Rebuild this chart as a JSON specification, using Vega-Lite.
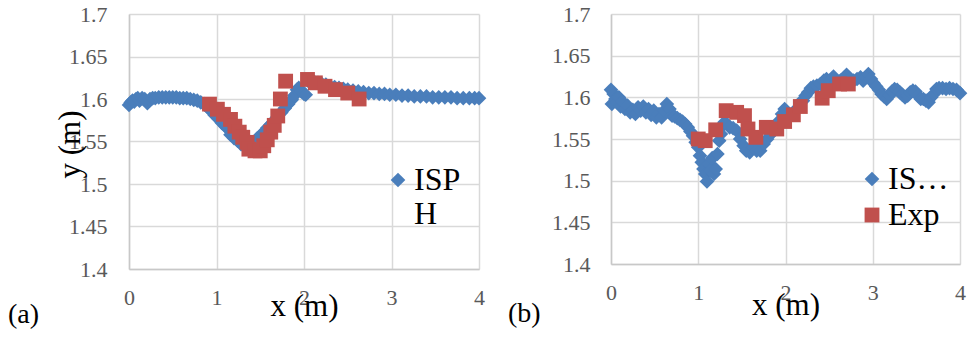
{
  "$schema": "https://vega.github.io/schema/vega-lite/v6.json",
  "autosize": {"type": "pad"},
  "padding": {"left": 8, "top": 3, "right": 0, "bottom": 0},
  "background": "white",
  "config": {
    "font": "Liberation Serif",
    "view": {"stroke": null},
    "axis": {
      "grid": true, "gridColor": "#d9d9d9", "gridWidth": 1.5,
      "domainColor": "#c8c8c8", "domainWidth": 1.5, "ticks": false,
      "labelFont": "Liberation Serif", "labelFontSize": 22, "labelColor": "#595959",
      "titleFont": "Liberation Serif", "titleFontSize": 31, "titleColor": "#000000", "titleFontWeight": "normal",
      "labelFlush": false
    },
    "legend": {
      "labelFont": "Liberation Serif", "labelFontSize": 32, "labelColor": "#000000",
      "symbolSize": 240, "symbolStrokeWidth": 0, "padding": 0, "rowPadding": 4, "labelOffset": 0, "labelLimit": 300
    },
    "title": {"font": "Liberation Serif", "fontSize": 28, "color": "#000000", "fontWeight": "normal"}
  },
  "datasets": {
    "a": [
      {"series":"ISPH","x":0,"y":1.593},{"series":"ISPH","x":0.02,"y":1.596},{"series":"ISPH","x":0.04,"y":1.598},{"series":"ISPH","x":0.06,"y":1.597},
      {"series":"ISPH","x":0.08,"y":1.6},{"series":"ISPH","x":0.1,"y":1.601},{"series":"ISPH","x":0.12,"y":1.598},{"series":"ISPH","x":0.15,"y":1.601},
      {"series":"ISPH","x":0.18,"y":1.6},{"series":"ISPH","x":0.21,"y":1.595},{"series":"ISPH","x":0.24,"y":1.6},{"series":"ISPH","x":0.27,"y":1.601},
      {"series":"ISPH","x":0.3,"y":1.601},{"series":"ISPH","x":0.34,"y":1.602},{"series":"ISPH","x":0.38,"y":1.602},{"series":"ISPH","x":0.42,"y":1.602},
      {"series":"ISPH","x":0.46,"y":1.602},{"series":"ISPH","x":0.5,"y":1.602},{"series":"ISPH","x":0.54,"y":1.602},{"series":"ISPH","x":0.58,"y":1.601},
      {"series":"ISPH","x":0.62,"y":1.601},{"series":"ISPH","x":0.66,"y":1.601},{"series":"ISPH","x":0.7,"y":1.6},{"series":"ISPH","x":0.74,"y":1.599},
      {"series":"ISPH","x":0.78,"y":1.598},{"series":"ISPH","x":0.82,"y":1.596},{"series":"ISPH","x":0.86,"y":1.594},{"series":"ISPH","x":0.9,"y":1.59},
      {"series":"ISPH","x":0.94,"y":1.586},{"series":"ISPH","x":0.98,"y":1.581},{"series":"ISPH","x":1.02,"y":1.577},{"series":"ISPH","x":1.06,"y":1.572},
      {"series":"ISPH","x":1.1,"y":1.568},{"series":"ISPH","x":1.13,"y":1.565},{"series":"ISPH","x":1.16,"y":1.558},{"series":"ISPH","x":1.2,"y":1.554},
      {"series":"ISPH","x":1.24,"y":1.551},{"series":"ISPH","x":1.28,"y":1.547},{"series":"ISPH","x":1.32,"y":1.544},{"series":"ISPH","x":1.36,"y":1.542},
      {"series":"ISPH","x":1.4,"y":1.541},{"series":"ISPH","x":1.43,"y":1.546},{"series":"ISPH","x":1.46,"y":1.553},{"series":"ISPH","x":1.5,"y":1.557},
      {"series":"ISPH","x":1.54,"y":1.561},{"series":"ISPH","x":1.58,"y":1.566},{"series":"ISPH","x":1.62,"y":1.57},{"series":"ISPH","x":1.66,"y":1.575},
      {"series":"ISPH","x":1.7,"y":1.579},{"series":"ISPH","x":1.74,"y":1.584},{"series":"ISPH","x":1.78,"y":1.589},{"series":"ISPH","x":1.82,"y":1.594},
      {"series":"ISPH","x":1.86,"y":1.599},{"series":"ISPH","x":1.89,"y":1.604},{"series":"ISPH","x":1.92,"y":1.611},{"series":"ISPH","x":1.94,"y":1.613},
      {"series":"ISPH","x":1.97,"y":1.609},{"series":"ISPH","x":2.0,"y":1.606},{"series":"ISPH","x":2.02,"y":1.605},{"series":"ISPH","x":2.05,"y":1.621},
      {"series":"ISPH","x":2.08,"y":1.621},{"series":"ISPH","x":2.12,"y":1.62},{"series":"ISPH","x":2.16,"y":1.619},{"series":"ISPH","x":2.2,"y":1.618},
      {"series":"ISPH","x":2.25,"y":1.617},{"series":"ISPH","x":2.3,"y":1.615},{"series":"ISPH","x":2.35,"y":1.614},{"series":"ISPH","x":2.4,"y":1.613},
      {"series":"ISPH","x":2.45,"y":1.612},{"series":"ISPH","x":2.5,"y":1.611},{"series":"ISPH","x":2.56,"y":1.61},{"series":"ISPH","x":2.62,"y":1.609},
      {"series":"ISPH","x":2.68,"y":1.608},{"series":"ISPH","x":2.74,"y":1.607},{"series":"ISPH","x":2.8,"y":1.607},{"series":"ISPH","x":2.86,"y":1.606},
      {"series":"ISPH","x":2.92,"y":1.606},{"series":"ISPH","x":2.98,"y":1.605},{"series":"ISPH","x":3.05,"y":1.605},{"series":"ISPH","x":3.12,"y":1.604},
      {"series":"ISPH","x":3.19,"y":1.604},{"series":"ISPH","x":3.26,"y":1.603},{"series":"ISPH","x":3.33,"y":1.603},{"series":"ISPH","x":3.4,"y":1.603},
      {"series":"ISPH","x":3.47,"y":1.602},{"series":"ISPH","x":3.54,"y":1.602},{"series":"ISPH","x":3.61,"y":1.602},{"series":"ISPH","x":3.68,"y":1.602},
      {"series":"ISPH","x":3.75,"y":1.601},{"series":"ISPH","x":3.82,"y":1.601},{"series":"ISPH","x":3.89,"y":1.601},{"series":"ISPH","x":3.95,"y":1.601},
      {"series":"ISPH","x":4.0,"y":1.601},
      {"series":"Exp","x":0.92,"y":1.594},{"series":"Exp","x":1.01,"y":1.588},{"series":"Exp","x":1.08,"y":1.582},{"series":"Exp","x":1.16,"y":1.576},
      {"series":"Exp","x":1.21,"y":1.568},{"series":"Exp","x":1.26,"y":1.561},{"series":"Exp","x":1.3,"y":1.555},{"series":"Exp","x":1.35,"y":1.549},
      {"series":"Exp","x":1.37,"y":1.541},{"series":"Exp","x":1.44,"y":1.539},{"series":"Exp","x":1.5,"y":1.539},{"series":"Exp","x":1.54,"y":1.545},
      {"series":"Exp","x":1.58,"y":1.552},{"series":"Exp","x":1.62,"y":1.561},{"series":"Exp","x":1.66,"y":1.569},{"series":"Exp","x":1.7,"y":1.58},
      {"series":"Exp","x":1.73,"y":1.6},{"series":"Exp","x":1.79,"y":1.621},{"series":"Exp","x":2.04,"y":1.623},{"series":"Exp","x":2.13,"y":1.619},
      {"series":"Exp","x":2.24,"y":1.615},{"series":"Exp","x":2.36,"y":1.611},{"series":"Exp","x":2.5,"y":1.607},{"series":"Exp","x":2.63,"y":1.6}
    ],
    "b": [
      {"series":"ISPH","x":0,"y":1.609},{"series":"ISPH","x":0.01,"y":1.592},{"series":"ISPH","x":0.03,"y":1.604},{"series":"ISPH","x":0.05,"y":1.598},
      {"series":"ISPH","x":0.07,"y":1.594},{"series":"ISPH","x":0.09,"y":1.6},{"series":"ISPH","x":0.11,"y":1.589},{"series":"ISPH","x":0.13,"y":1.595},
      {"series":"ISPH","x":0.16,"y":1.586},{"series":"ISPH","x":0.19,"y":1.59},{"series":"ISPH","x":0.22,"y":1.582},{"series":"ISPH","x":0.25,"y":1.585},
      {"series":"ISPH","x":0.28,"y":1.58},{"series":"ISPH","x":0.31,"y":1.588},{"series":"ISPH","x":0.34,"y":1.584},{"series":"ISPH","x":0.37,"y":1.589},
      {"series":"ISPH","x":0.4,"y":1.582},{"series":"ISPH","x":0.43,"y":1.586},{"series":"ISPH","x":0.46,"y":1.579},{"series":"ISPH","x":0.49,"y":1.584},
      {"series":"ISPH","x":0.52,"y":1.576},{"series":"ISPH","x":0.55,"y":1.58},{"series":"ISPH","x":0.58,"y":1.576},{"series":"ISPH","x":0.61,"y":1.584},
      {"series":"ISPH","x":0.64,"y":1.592},{"series":"ISPH","x":0.67,"y":1.586},{"series":"ISPH","x":0.7,"y":1.578},{"series":"ISPH","x":0.73,"y":1.577},
      {"series":"ISPH","x":0.76,"y":1.575},{"series":"ISPH","x":0.79,"y":1.573},{"series":"ISPH","x":0.82,"y":1.571},{"series":"ISPH","x":0.85,"y":1.568},
      {"series":"ISPH","x":0.88,"y":1.564},{"series":"ISPH","x":0.91,"y":1.559},{"series":"ISPH","x":0.94,"y":1.554},{"series":"ISPH","x":0.97,"y":1.546},
      {"series":"ISPH","x":1.0,"y":1.54},{"series":"ISPH","x":1.02,"y":1.53},{"series":"ISPH","x":1.04,"y":1.522},{"series":"ISPH","x":1.06,"y":1.514},
      {"series":"ISPH","x":1.08,"y":1.508},{"series":"ISPH","x":1.1,"y":1.499},{"series":"ISPH","x":1.12,"y":1.52},{"series":"ISPH","x":1.14,"y":1.512},
      {"series":"ISPH","x":1.16,"y":1.527},{"series":"ISPH","x":1.18,"y":1.508},{"series":"ISPH","x":1.2,"y":1.514},{"series":"ISPH","x":1.22,"y":1.532},
      {"series":"ISPH","x":1.24,"y":1.548},{"series":"ISPH","x":1.26,"y":1.556},{"series":"ISPH","x":1.28,"y":1.566},{"series":"ISPH","x":1.3,"y":1.57},
      {"series":"ISPH","x":1.33,"y":1.568},{"series":"ISPH","x":1.36,"y":1.564},{"series":"ISPH","x":1.4,"y":1.563},{"series":"ISPH","x":1.44,"y":1.56},
      {"series":"ISPH","x":1.48,"y":1.55},{"series":"ISPH","x":1.52,"y":1.542},{"series":"ISPH","x":1.55,"y":1.536},{"series":"ISPH","x":1.59,"y":1.534},
      {"series":"ISPH","x":1.63,"y":1.54},{"series":"ISPH","x":1.67,"y":1.536},{"series":"ISPH","x":1.71,"y":1.536},{"series":"ISPH","x":1.75,"y":1.544},
      {"series":"ISPH","x":1.79,"y":1.55},{"series":"ISPH","x":1.83,"y":1.556},{"series":"ISPH","x":1.87,"y":1.56},{"series":"ISPH","x":1.9,"y":1.568},
      {"series":"ISPH","x":1.93,"y":1.572},{"series":"ISPH","x":1.96,"y":1.58},{"series":"ISPH","x":1.99,"y":1.586},{"series":"ISPH","x":2.02,"y":1.578},
      {"series":"ISPH","x":2.05,"y":1.578},{"series":"ISPH","x":2.09,"y":1.582},{"series":"ISPH","x":2.13,"y":1.586},{"series":"ISPH","x":2.17,"y":1.594},
      {"series":"ISPH","x":2.2,"y":1.596},{"series":"ISPH","x":2.23,"y":1.602},{"series":"ISPH","x":2.26,"y":1.606},{"series":"ISPH","x":2.29,"y":1.611},
      {"series":"ISPH","x":2.32,"y":1.613},{"series":"ISPH","x":2.36,"y":1.614},{"series":"ISPH","x":2.4,"y":1.616},{"series":"ISPH","x":2.44,"y":1.62},
      {"series":"ISPH","x":2.47,"y":1.622},{"series":"ISPH","x":2.51,"y":1.62},{"series":"ISPH","x":2.55,"y":1.625},{"series":"ISPH","x":2.59,"y":1.618},
      {"series":"ISPH","x":2.63,"y":1.62},{"series":"ISPH","x":2.67,"y":1.622},{"series":"ISPH","x":2.7,"y":1.627},{"series":"ISPH","x":2.74,"y":1.622},
      {"series":"ISPH","x":2.78,"y":1.62},{"series":"ISPH","x":2.82,"y":1.622},{"series":"ISPH","x":2.86,"y":1.624},{"series":"ISPH","x":2.89,"y":1.62},
      {"series":"ISPH","x":2.92,"y":1.624},{"series":"ISPH","x":2.95,"y":1.628},{"series":"ISPH","x":2.98,"y":1.622},{"series":"ISPH","x":3.01,"y":1.617},
      {"series":"ISPH","x":3.04,"y":1.613},{"series":"ISPH","x":3.07,"y":1.609},{"series":"ISPH","x":3.1,"y":1.604},{"series":"ISPH","x":3.13,"y":1.601},
      {"series":"ISPH","x":3.16,"y":1.598},{"series":"ISPH","x":3.19,"y":1.602},{"series":"ISPH","x":3.22,"y":1.607},{"series":"ISPH","x":3.25,"y":1.61},
      {"series":"ISPH","x":3.28,"y":1.609},{"series":"ISPH","x":3.31,"y":1.606},{"series":"ISPH","x":3.34,"y":1.603},{"series":"ISPH","x":3.37,"y":1.6},
      {"series":"ISPH","x":3.4,"y":1.602},{"series":"ISPH","x":3.43,"y":1.606},{"series":"ISPH","x":3.46,"y":1.608},{"series":"ISPH","x":3.49,"y":1.607},
      {"series":"ISPH","x":3.52,"y":1.602},{"series":"ISPH","x":3.55,"y":1.598},{"series":"ISPH","x":3.58,"y":1.598},{"series":"ISPH","x":3.61,"y":1.596},
      {"series":"ISPH","x":3.64,"y":1.594},{"series":"ISPH","x":3.67,"y":1.6},{"series":"ISPH","x":3.7,"y":1.604},{"series":"ISPH","x":3.73,"y":1.61},
      {"series":"ISPH","x":3.76,"y":1.611},{"series":"ISPH","x":3.8,"y":1.611},{"series":"ISPH","x":3.84,"y":1.61},{"series":"ISPH","x":3.88,"y":1.611},
      {"series":"ISPH","x":3.92,"y":1.61},{"series":"ISPH","x":3.96,"y":1.609},{"series":"ISPH","x":4.0,"y":1.605},
      {"series":"Exp","x":1.0,"y":1.55},{"series":"Exp","x":1.08,"y":1.548},{"series":"Exp","x":1.2,"y":1.561},{"series":"Exp","x":1.32,"y":1.584},
      {"series":"Exp","x":1.44,"y":1.582},{"series":"Exp","x":1.53,"y":1.578},{"series":"Exp","x":1.57,"y":1.562},{"series":"Exp","x":1.66,"y":1.552},
      {"series":"Exp","x":1.78,"y":1.564},{"series":"Exp","x":1.9,"y":1.562},{"series":"Exp","x":1.99,"y":1.571},{"series":"Exp","x":2.09,"y":1.579},
      {"series":"Exp","x":2.17,"y":1.589},{"series":"Exp","x":2.42,"y":1.599},{"series":"Exp","x":2.49,"y":1.608},{"series":"Exp","x":2.62,"y":1.616},
      {"series":"Exp","x":2.72,"y":1.616}
    ]
  },
  "bounds": "flush",
  "spacing": 132,
  "resolve": {
    "scale": {"color": "independent", "shape": "independent", "size": "independent"},
    "legend": {"color": "independent", "shape": "independent", "size": "independent"}
  },
  "hconcat": [
    {
      "width": 350, "height": 255,
      "data": {"name": "a"},
      "title": {"text": "(a)", "orient": "bottom", "anchor": "start", "frame": "group", "dx": -121, "offset": 2, "baseline": "alphabetic"},
      "mark": {"type": "point", "filled": true, "opacity": 1, "strokeWidth": 0},
      "encoding": {
        "x": {"field": "x", "type": "quantitative", "scale": {"domain": [0, 4], "nice": false},
          "axis": {"values": [0, 1, 2, 3, 4], "format": "d", "title": "x (m)", "labelFont": "Liberation Serif", "labelPadding": 18, "titleY": 46, "titleBaseline": "alphabetic"}},
        "y": {"field": "y", "type": "quantitative", "scale": {"domain": [1.4, 1.7], "nice": false, "zero": false},
          "axis": {"values": [1.4, 1.45, 1.5, 1.55, 1.6, 1.65, 1.7], "format": ".2~f", "title": "y (m)", "labelFont": "Liberation Serif", "labelPadding": 22, "titleX": -50, "titleY": 130, "titleAngle": -90, "titleBaseline": "alphabetic", "titleAlign": "center"}},
        "color": {"field": "series", "type": "nominal", "scale": {"domain": ["ISPH", "Exp"], "range": ["#4a7ebb", "#c0504d"]},
          "legend": {"orient": "none", "legendX": 253, "legendY": 150, "title": null, "values": ["ISPH"], "labelExpr": "['ISP', 'H']", "labelFont": "Liberation Serif",
            "encode": {"labels": {"update": {"lineHeight": {"value": 35}, "dy": {"value": 17}}}}}},
        "shape": {"field": "series", "type": "nominal", "scale": {"domain": ["ISPH", "Exp"], "range": ["diamond", "square"]}},
        "size": {"field": "series", "type": "nominal", "scale": {"domain": ["ISPH", "Exp"], "range": [215, 220]}, "legend": null}
      }
    },
    {
      "width": 349, "height": 250,
      "data": {"name": "b"},
      "title": {"text": "(b)", "orient": "bottom", "anchor": "start", "frame": "group", "dx": -103, "offset": 2, "baseline": "alphabetic"},
      "mark": {"type": "point", "filled": true, "opacity": 1, "strokeWidth": 0},
      "encoding": {
        "x": {"field": "x", "type": "quantitative", "scale": {"domain": [0, 4], "nice": false},
          "axis": {"values": [0, 1, 2, 3, 4], "format": "d", "title": "x (m)", "labelFont": "Liberation Serif", "labelPadding": 18, "titleY": 50, "titleBaseline": "alphabetic"}},
        "y": {"field": "y", "type": "quantitative", "scale": {"domain": [1.4, 1.7], "nice": false, "zero": false},
          "axis": {"values": [1.4, 1.45, 1.5, 1.55, 1.6, 1.65, 1.7], "format": ".2~f", "title": null, "labelFont": "Liberation Serif", "labelPadding": 21}},
        "color": {"field": "series", "type": "nominal", "scale": {"domain": ["ISPH", "Exp"], "range": ["#4a7ebb", "#c0504d"]},
          "legend": {"orient": "none", "legendX": 245, "legendY": 149, "title": null, "labelExpr": "datum.label == 'ISPH' ? 'IS…' : datum.label", "labelFont": "Liberation Serif"}},
        "shape": {"field": "series", "type": "nominal", "scale": {"domain": ["ISPH", "Exp"], "range": ["diamond", "square"]}},
        "size": {"field": "series", "type": "nominal", "scale": {"domain": ["ISPH", "Exp"], "range": [215, 220]}, "legend": null}
      }
    }
  ]
}
